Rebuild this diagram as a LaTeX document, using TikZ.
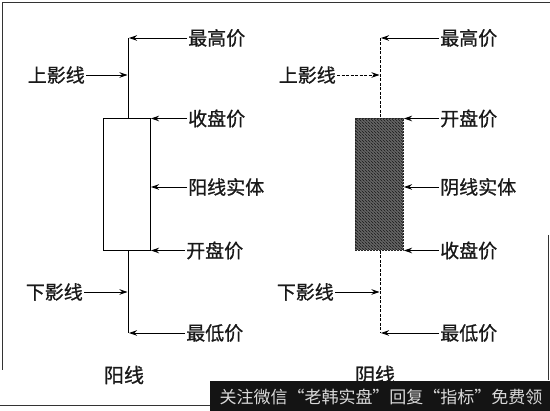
\documentclass[tikz,border=0pt]{standalone}
\usepackage{fontspec}
\newfontfamily\cjk[FakeBold=0.9]{Noto Sans CJK SC}
\newfontfamily\cjkw{Noto Sans CJK SC}
\usetikzlibrary{arrows.meta,patterns}
\begin{document}
\begin{tikzpicture}[x=1pt,y=-1pt,
  lbl/.style={font=\cjk\fontsize{19}{19}\selectfont, inner sep=1pt, text=black!90},
  rlbl/.style={lbl, anchor=west},
  llbl/.style={lbl, anchor=east},
  ttl/.style={font=\cjk\fontsize{20}{20}\selectfont, inner sep=1pt, text=black!90},
  arr/.style={-{Stealth[length=8pt,width=5.5pt]}, line width=0.9pt},
  wick/.style={line width=1pt},
  dwick/.style={line width=0.8pt, dash pattern=on 3pt off 1.5pt},
  frame/.style={line width=1pt, black!80},
]
\useasboundingbox (0,0) rectangle (550,411);
% frame
\draw[frame] (2,370) -- (2,3) -- (550,3);
\draw[frame] (548,235) -- (548,380);
\draw[frame] (0,406) -- (212,406);

% ---------- left candle (yang) ----------
\coordinate (LT) at (128,38);
\coordinate (LB) at (128,333);
\node[draw, line width=0.8pt, minimum width=47pt, minimum height=132pt, inner sep=0pt] (Lbody) at (126.5,184.5) {};
\draw[wick] (LT) -- (LT |- Lbody.north);
\draw[wick] (LB |- Lbody.south) -- (LB);
\coordinate (Lhi) at (129,38);
\coordinate (Lup) at (127.5,75);
\coordinate (Lcl) at (151,118.5);
\coordinate (Lbd) at (151,187);
\coordinate (Lop) at (151,250.5);
\coordinate (Ldn) at (127.5,292);
\coordinate (Llo) at (129,333);
\node[rlbl] (LhiT) at (187,38) {最高价};
\node[llbl] (LupT) at (86,75) {上影线};
\node[rlbl] (LclT) at (187,118.5) {收盘价};
\node[rlbl] (LbdT) at (187,187) {阳线实体};
\node[rlbl] (LopT) at (185,250.5) {开盘价};
\node[llbl] (LdnT) at (84,292) {下影线};
\node[rlbl] (LloT) at (185,333) {最低价};
\draw[arr] (LhiT.west) -- (Lhi);
\draw[arr] (LupT.east) -- (Lup);
\draw[arr] (LclT.west) -- (Lcl);
\draw[arr] (LbdT.west) -- (Lbd);
\draw[arr] (LopT.west) -- (Lop);
\draw[arr] (LdnT.east) -- (Ldn);
\draw[arr] (LloT.west) -- (Llo);
\node[ttl] (Lname) at (124,375) {阳线};

% ---------- right candle (yin) ----------
\coordinate (RT) at (380,38);
\coordinate (RB) at (380,333);
\node[draw=black!85, line width=0.8pt, dash pattern=on 2pt off 1pt, minimum width=48pt, minimum height=132pt, inner sep=0pt,
      preaction={fill=black!60}, pattern=north west lines, pattern color=black!90] (Rbody) at (379,184.5) {};
\draw[dwick] (RT) -- (RT |- Rbody.north);
\draw[dwick] (RB |- Rbody.south) -- (RB);
\coordinate (Rhi) at (381,38);
\coordinate (Rup) at (379.5,75);
\coordinate (Rop) at (404,118.5);
\coordinate (Rbd) at (404,187);
\coordinate (Rcl) at (404,250.5);
\coordinate (Rdn) at (379.5,292);
\coordinate (Rlo) at (381,333);
\node[rlbl] (RhiT) at (439,38) {最高价};
\node[llbl] (RupT) at (337,75) {上影线};
\node[rlbl] (RopT) at (439,118.5) {开盘价};
\node[rlbl] (RbdT) at (439,187) {阴线实体};
\node[rlbl] (RclT) at (439,250.5) {收盘价};
\node[llbl] (RdnT) at (335,292) {下影线};
\node[rlbl] (RloT) at (439,333) {最低价};
\draw[arr] (RhiT.west) -- (Rhi);
\draw[arr, dash pattern=on 3pt off 1.5pt] (RupT.east) -- (Rup);
\draw[arr] (RopT.west) -- (Rop);
\draw[arr] (RbdT.west) -- (Rbd);
\draw[arr] (RclT.west) -- (Rcl);
\draw[arr] (RdnT.east) -- (Rdn);
\draw[arr] (RloT.west) -- (Rlo);
\node[ttl] (Rname) at (375,375) {阴线};

% ---------- watermark bar ----------
\fill[black!92] (210,381) rectangle (550,411);
\node[font=\cjkw\fontsize{17}{17}\selectfont, text=white!85!black, inner sep=0pt] (wm) at (381,396.5) {关注微信“老韩实盘”回复“指标”免费领};
\end{tikzpicture}
\end{document}
